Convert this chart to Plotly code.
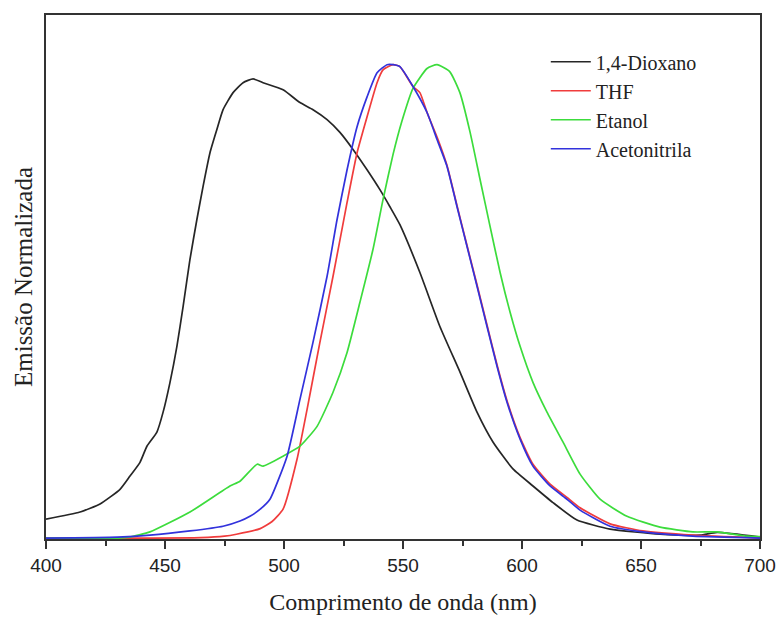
import plotly.graph_objects as go

# 1,4-Dioxano
diox_x = [400, 414.3, 422.7, 431.1, 435.3, 439.5, 442.4, 446.6, 449.2, 452.1, 455.0, 457.6, 460.5, 463.4,
          466.0, 468.9, 471.8, 474.4, 478.6, 482.8, 487.0, 491.2, 499.6, 506.7, 512.2, 518.1, 523.5, 529.0,
          534.9, 540.3, 544.5, 548.7, 557.1, 565.5, 574.0, 581.1, 587.8, 596.2, 604.6, 613.0, 623.1, 637.0,
          658.0, 674.8, 682.0, 700]
diox_y = [0.040, 0.055, 0.072, 0.103, 0.131, 0.160, 0.194, 0.224, 0.266, 0.329, 0.405, 0.489, 0.589, 0.673,
          0.743, 0.814, 0.863, 0.905, 0.941, 0.962, 0.970, 0.962, 0.947, 0.920, 0.905, 0.884, 0.857, 0.821,
          0.778, 0.736, 0.700, 0.662, 0.561, 0.447, 0.350, 0.266, 0.203, 0.146, 0.110, 0.075, 0.038, 0.019,
          0.008, 0.006, 0.012, 0.002]

# THF
thf_x = [400, 440, 465, 475, 480, 490, 495, 499.6, 505.5, 509.7, 515.1, 520.6, 526.5, 530.7, 534.9, 539.1,
         541.6, 545.8, 548.7, 554.2, 557.1, 560.1, 564.7, 568.5, 572.7, 576.9, 581.1, 585.3, 589.5, 593.7,
         599.2, 604.6, 611.8, 618.9, 624.4, 637.0, 650.8, 671.8, 700]
thf_y = [0.0, 0.0, 0.001, 0.004, 0.008, 0.020, 0.035, 0.061, 0.167, 0.272, 0.414, 0.553, 0.709, 0.814, 0.890,
         0.962, 0.989, 1.000, 0.996, 0.954, 0.941, 0.899, 0.842, 0.787, 0.702, 0.618, 0.535, 0.450, 0.366,
         0.290, 0.212, 0.156, 0.114, 0.086, 0.064, 0.030, 0.015, 0.006, 0.0]

# Etanol
etan_x = [400, 430, 435, 443.7, 460.5, 477.3, 481.5, 488.7, 491.2, 499.6, 506.7, 513.9, 520.6, 526.5, 531.9,
          537.4, 541.6, 545.8, 549.5, 554.2, 560.1, 564.3, 569.7, 573.9, 578.2, 582.4, 586.6, 590.8, 595.0,
          599.2, 604.6, 610.5, 617.2, 624.4, 632.8, 644.1, 658.0, 671.8, 681.9, 694.5, 700]
etan_y = [0.0, 0.0, 0.002, 0.013, 0.055, 0.110, 0.120, 0.156, 0.152, 0.173, 0.194, 0.236, 0.308, 0.392, 0.498,
          0.610, 0.715, 0.810, 0.880, 0.950, 0.992, 1.000, 0.985, 0.941, 0.857, 0.757, 0.658, 0.561, 0.477,
          0.405, 0.329, 0.266, 0.203, 0.135, 0.082, 0.046, 0.023, 0.013, 0.013, 0.004, 0.003]

# Acetonitrila
acet_x = [400, 430, 443.7, 460.5, 474.4, 481.5, 485.7, 490.0, 494.1, 501.3, 506.7, 512.2, 518.1, 522.3, 526.5,
          530.7, 534.9, 539.1, 543.3, 545.8, 548.7, 554.2, 560.1, 564.3, 568.5, 572.7, 576.9, 581.1, 585.3,
          589.5, 593.7, 599.2, 604.6, 611.8, 618.9, 624.4, 637.0, 650.8, 671.8, 700]
acet_y = [0.0, 0.002, 0.006, 0.015, 0.025, 0.036, 0.046, 0.061, 0.082, 0.173, 0.293, 0.414, 0.553, 0.673, 0.778,
          0.869, 0.932, 0.983, 1.000, 1.000, 0.996, 0.954, 0.899, 0.842, 0.785, 0.700, 0.616, 0.532, 0.447,
          0.363, 0.287, 0.209, 0.152, 0.110, 0.082, 0.059, 0.025, 0.013, 0.004, 0.0]

x_ticks = [400, 450, 500, 550, 600, 650, 700]

series = [
    ("1,4-Dioxano", diox_x, diox_y, "#262626"),
    ("THF", thf_x, thf_y, "#f03c3c"),
    ("Etanol", etan_x, etan_y, "#3cdc3c"),
    ("Acetonitrila", acet_x, acet_y, "#3232dc"),
]

fig = go.Figure()
for name, xs, ys, col in series:
    fig.add_trace(go.Scatter(x=xs, y=ys, mode="lines", name=name,
                             line=dict(color=col, width=1.7, shape="spline", smoothing=0.5)))

serif = "Liberation Serif, Times New Roman, serif"
fig.update_layout(
    width=781, height=619,
    margin=dict(l=46, r=21, t=15, b=80, autoexpand=False),
    paper_bgcolor="white", plot_bgcolor="white",
    showlegend=True,
    legend=dict(x=0.70, y=0.948, xanchor="left", yanchor="top",
                font=dict(family=serif, size=20, color="#222"),
                bgcolor="rgba(0,0,0,0)", itemwidth=40, tracegroupgap=0),
    xaxis=dict(range=[400, 700], tickvals=x_ticks, ticktext=[str(v) for v in x_ticks],
               automargin=False,
               showgrid=False, zeroline=False,
               showline=True, linecolor="#333", linewidth=2, mirror=True,
               ticks="outside", ticklen=8, tickwidth=2, tickcolor="#333",
               minor=dict(dtick=25, tick0=400, ticks="outside", ticklen=5, tickwidth=2, tickcolor="#333"),
               tickfont=dict(family="Liberation Sans, Arial, sans-serif", size=19, color="#222"),
               title=dict(text="Comprimento de onda (nm)", font=dict(family=serif, size=24, color="#222"),
                          standoff=18)),
    yaxis=dict(range=[-0.002, 1.105], showticklabels=False, ticks="",
               automargin=False,
               showgrid=False, zeroline=False,
               showline=True, linecolor="#333", linewidth=2, mirror=True,
               title=dict(text="Emissão Normalizada", font=dict(family=serif, size=25, color="#222"),
                          standoff=4)),
)

fig.write_html("out.html",
               config={"displayModeBar": False},
               post_script="document.body.style.margin='0';document.body.style.overflow='hidden';")
